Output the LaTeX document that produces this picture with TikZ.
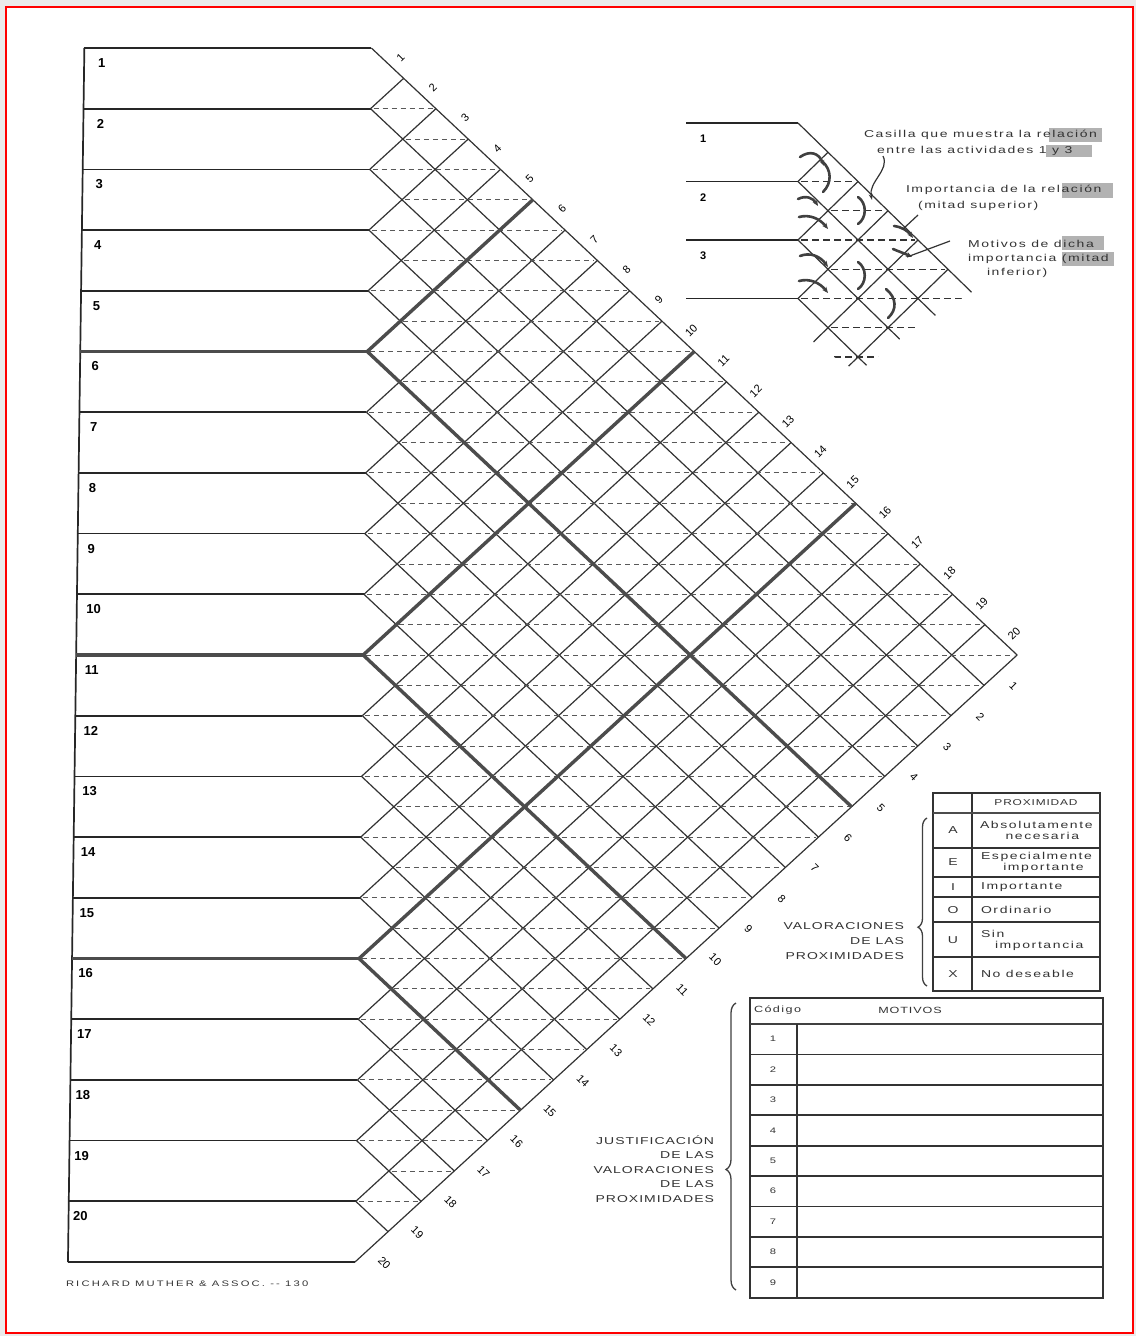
\documentclass[tikz,border=0pt]{standalone}
\usepackage{fontspec}
\setmainfont{Liberation Sans}
\newfontfamily\scanfont[FakeStretch=1.4,LetterSpace=16]{Liberation Sans}
\newfontfamily\capfont[FakeStretch=1.4,LetterSpace=10]{Liberation Sans}
\newfontfamily\footfont[FakeStretch=1.4,LetterSpace=27]{Liberation Sans}
\usetikzlibrary{decorations.pathreplacing,arrows.meta}
\tikzset{
  every node/.style={inner sep=0pt, outer sep=0pt},
  rowline/.style={line width=1.7pt, black!85},
  heavyline/.style={line width=3.4pt, black!70},
  gridline/.style={line width=1.2pt, black!80},
  halfline/.style={line width=0.9pt, black!65, dash pattern=on 5pt off 4pt},
  rowlabel/.style={font=\bfseries\fontsize{13}{13}\selectfont, anchor=west},
  edgelabel/.style={font=\fontsize{11}{11}\selectfont},
  note/.style={font=\scanfont\fontsize{10}{16}\selectfont, black!80},
  tabtext/.style={font=\scanfont\fontsize{10}{13}\selectfont, black!80},
  captext/.style={font=\capfont\fontsize{10}{14.6}\selectfont, black!80},
  hilite/.style={fill=black!30},
  tabline/.style={line width=1.3pt, black!80},
  markline/.style={line width=2.6pt, black!75, line cap=round},
  markarrow/.style={markline, -{Stealth[length=6pt,width=5pt]}},
  callout/.style={line width=1.2pt, black!80}
}
\def\xo{372}\def\yo{48}\def\rh{60.7}\def\ha{32.7}
\def\xs{798}\def\ys{123}\def\sh{58.5}\def\sa{30}
\begin{document}
\begin{tikzpicture}[x=1pt,y=-1pt]
\useasboundingbox (0,0) rectangle (1136,1336);
\fill[black!8] (0,0) rectangle (1136,1336);
\fill[white] (6,7) rectangle (1133,1333);
\draw[red, line width=2.5pt] (6,7) rectangle (1133,1333);

% main relationship chart (scan is slightly sheared)
\begin{scope}[xslant=0.0135]
  \draw[rowline] (85,\yo) -- (85,{\yo+20*\rh});
  \foreach \k in {0,...,20}
    \draw[rowline] (85,{\yo+\k*\rh}) -- (\xo,{\yo+\k*\rh}) coordinate (e\k);
  \foreach \i in {1,...,20}
    \node[rowlabel] (r\i) at ({99-0.5*(\i-1)},{\yo+(\i-1)*\rh+15}) {\i};
  % diagonals
  \foreach \k in {0,...,19}
    \draw[gridline] (e\k) -- ({\xo+(20-\k)*\ha},{\yo+\k*\rh+(20-\k)*\rh/2});
  \foreach \k in {1,...,20}
    \draw[gridline] (e\k) -- ({\xo+\k*\ha},{\yo+\k*\rh/2});
  % upper / lower halves of each cell
  \foreach \m in {2,...,38}{
    \pgfmathsetmacro{\xl}{\xo+mod(\m,2)*\ha}
    \pgfmathsetmacro{\xr}{\xo+min(\m,40-\m)*\ha}
    \draw[halfline, shorten <=3pt, shorten >=3pt] (\xl,{\yo+\m*\rh/2}) -- (\xr,{\yo+\m*\rh/2});
  }
  % every fifth activity
  \foreach \k in {5,10,15}{
    \draw[heavyline] (85,{\yo+\k*\rh}) -- (e\k);
    \draw[heavyline] (e\k) -- ({\xo+(20-\k)*\ha},{\yo+\k*\rh+(20-\k)*\rh/2});
    \draw[heavyline] (e\k) -- ({\xo+\k*\ha},{\yo+\k*\rh/2});
  }
  \foreach \i in {1,...,20}{
    \node[edgelabel, rotate=45] (t\i) at ({\xo+(\i-0.5)*\ha+13},{\yo+(\i-0.5)*\rh/2-6}) {\i};
    \node[edgelabel, rotate=-45] (b\i) at ({\xo+(20.5-\i)*\ha+13},{\yo+20*\rh-(20.5-\i)*\rh/2+16}) {\i};
  }
\end{scope}
\node[font=\footfont\fontsize{8}{8}\selectfont, anchor=west, black!80] (firma) at (66,1284) {RICHARD MUTHER \& ASSOC. -- 130};

% small example chart
\foreach \k in {0,...,3}
  \draw[rowline, line width=1.4pt] (686,{\ys+\k*\sh}) -- (\xs,{\ys+\k*\sh}) coordinate (s\k);
\foreach \i in {1,2,3}
  \node[rowlabel, font=\bfseries\fontsize{11}{11}\selectfont] (sr\i) at (700,{\ys+(\i-1)*\sh+16}) {\i};
\begin{scope}
  \clip (795,110) -- (975,110) -- (975,290) -- (905,335) -- (858,372) -- (815,345) -- (795,305) -- cycle;
  \foreach \k in {0,...,5}
    \draw[gridline] (\xs,{\ys+\k*\sh}) -- ({\xs+(6-\k)*\sa},{\ys+\k*\sh+(6-\k)*\sh/2});
  \foreach \k in {1,...,6}
    \draw[gridline] (\xs,{\ys+\k*\sh}) -- ({\xs+\k*\sa},{\ys+\k*\sh/2});
  \foreach \m in {2,...,11}{
    \pgfmathsetmacro{\xl}{\xs+mod(\m,2)*\sa}
    \pgfmathsetmacro{\xr}{\xs+min(\m,12-\m)*\sa}
    \draw[halfline, line width=1.3pt, black!80, dash pattern=on 7pt off 4pt, shorten <=3pt, shorten >=3pt] (\xl,{\ys+\m*\sh/2}) -- (\xr,{\ys+\m*\sh/2});
  }
\end{scope}
% hand drawn marks
\draw[markarrow] (800,157) .. controls (810,150) and (819,153) .. (824,166);
\draw[markline] (822,161) .. controls (832,170) and (832,183) .. (823,192);
\draw[markarrow] (798,199) .. controls (806,195) and (813,198) .. (818,206);
\draw[markline] (858,197) .. controls (867,203) and (867,218) .. (858,224);
\draw[markarrow] (799,217) .. controls (810,214) and (820,219) .. (828,229);
\draw[markarrow] (800,256) .. controls (810,252) and (820,256) .. (828,267);
\draw[markline] (858,262) .. controls (867,268) and (867,283) .. (858,289);
\draw[markarrow] (799,281) .. controls (810,278) and (820,283) .. (828,293);
\draw[markline] (886,289) .. controls (897,298) and (897,310) .. (888,318);
\draw[markarrow] (894,226) .. controls (902,227) and (908,231) .. (913,238);
\draw[markarrow] (893,249) .. controls (900,252) and (906,254) .. (912,257);

% notes
\fill[hilite] (1049,128) rectangle (1102,142);
\fill[hilite] (1046,145) rectangle (1092,157);
\fill[hilite] (1062,183) rectangle (1113,198);
\fill[hilite] (1062,236) rectangle (1104,250);
\fill[hilite] (1062,252) rectangle (1114,266);
\node[note, anchor=west] (nota1) at (864,135) {Casilla que muestra la relación};
\node[note, anchor=west] (nota2) at (877,151) {entre las actividades 1 y 3};
\node[note, anchor=west] (nota3) at (906,190) {Importancia de la relación};
\node[note, anchor=west] (nota4) at (918,206) {(mitad superior)};
\node[note, anchor=west] (nota5) at (968,244) {Motivos de dicha};
\node[note, anchor=west] (nota6) at (968,259) {importancia (mitad};
\node[note, anchor=west] (nota7) at (987,273) {inferior)};
\draw[callout, -{Stealth[length=6pt,width=4pt]}] (883,156) .. controls (890,170) and (868,182) .. (872,200);
\draw[callout] (918,215) -- (903,229);
\draw[callout] (950,241) -- (907,257);

% proximity ratings
\draw[tabline] (933,793) rectangle (1100,991);
\draw[tabline] (972,793) -- (972,991);
\draw[line width=2.4pt, black!70] (933,813) -- (1100,813);
\foreach \y in {848,877,897,922,957}
  \draw[tabline] (933,\y) -- (1100,\y);
\node[captext, font=\capfont\fontsize{8.5}{10}\selectfont] (prox) at (1036,803) {PROXIMIDAD};
\foreach \c/\y/\n in {A/830/cA,E/862/cE,I/887/cI,O/910/cO,U/940/cU,X/974/cX}
  \node[captext] (\n) at (953,\y) {\c};
\node[tabtext, align=center, anchor=west] (dA) at (980,830) {Absolutamente\\[-2pt]\hspace*{12pt}necesaria};
\node[tabtext, align=center, anchor=west] (dE) at (981,862) {Especialmente\\[-2pt]\hspace*{14pt}importante};
\node[tabtext, anchor=west] (dI) at (981,887) {Importante};
\node[tabtext, anchor=west] (dO) at (981,910) {Ordinario};
\node[tabtext, align=left, anchor=west] (dU) at (981,940) {Sin\\[-2pt]\hspace*{14pt}importancia};
\node[tabtext, anchor=west] (dX) at (981,974) {No deseable};
\draw[line width=1.3pt, black!75, decorate, decoration={brace, amplitude=9pt, aspect=0.35}] (927,986) -- (927,818);
\node[captext, align=right, anchor=east] (valor) at (904,941) {VALORACIONES\\DE LAS\\PROXIMIDADES};

% justification of ratings
\draw[tabline] (750,998) rectangle (1103,1298);
\draw[line width=2.4pt, black!75] (750,1024) -- (1103,1024);
\draw[tabline] (797,1024) -- (797,1298);
\foreach \k in {1,...,8}
  \draw[line width=1.8pt, black!80] (750,{1024+\k*30.4}) -- (1103,{1024+\k*30.4});
\foreach \k in {1,...,9}
  \node[captext, font=\capfont\fontsize{8}{8}\selectfont] (m\k) at (773,{1024+(\k-0.5)*30.4}) {\k};
\node[tabtext, anchor=west, font=\scanfont\fontsize{9}{9}\selectfont] (codigo) at (754,1010) {Código};
\node[captext, font=\capfont\fontsize{9}{9}\selectfont] (motivos) at (910,1010) {MOTIVOS};
\draw[line width=1.3pt, black!75, decorate, decoration={brace, amplitude=10pt, aspect=0.42}] (736,1290) -- (736,1003);
\node[captext, align=right, anchor=east] (justif) at (714,1169) {JUSTIFICACIÓN\\DE LAS\\VALORACIONES\\DE LAS\\PROXIMIDADES};
\end{tikzpicture}
\end{document}
